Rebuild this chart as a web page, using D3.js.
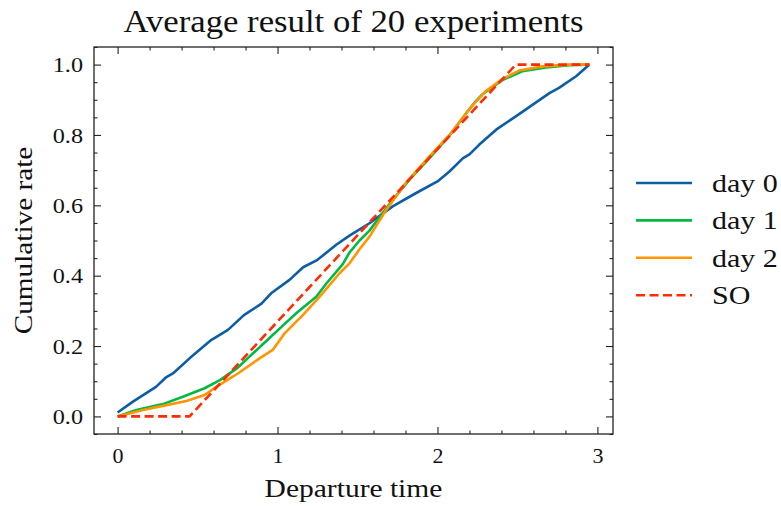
<!DOCTYPE html>
<html>
<head>
<meta charset="utf-8">
<script src="https://cdn.jsdelivr.net/npm/d3@7"></script>
<style>
  html, body { margin: 0; padding: 0; background: #fff; }
  svg text { font-family: "Liberation Serif", "DejaVu Serif", serif; fill: #111; }
</style>
</head>
<body>
<svg id="chart" width="781" height="506"></svg>
<script>
// Cumulative departure rate, averaged over 20 experiments
const day0 = [[0,0.011],[0.096,0.042],[0.24,0.084],[0.30,0.11],[0.346,0.122],[0.45,0.165],[0.585,0.217],[0.69,0.246],[0.79,0.288],[0.898,0.32],[0.96,0.35],[1.075,0.388],[1.16,0.424],[1.25,0.445],[1.367,0.488],[1.45,0.514],[1.575,0.549],[1.72,0.597],[1.867,0.635],[2.0,0.668],[2.075,0.696],[2.16,0.734],[2.2,0.745],[2.26,0.772],[2.367,0.815],[2.49,0.853],[2.7,0.919],[2.76,0.934],[2.867,0.967],[2.95,1.0]];
const day1 = [[0,0],[0.117,0.018],[0.283,0.035],[0.408,0.056],[0.544,0.08],[0.64,0.103],[0.75,0.138],[0.82,0.168],[0.908,0.205],[1.033,0.258],[1.117,0.293],[1.242,0.34],[1.304,0.377],[1.408,0.433],[1.45,0.466],[1.5125,0.5],[1.575,0.528],[1.7,0.604],[1.825,0.673],[1.95,0.734],[2.075,0.798],[2.18,0.862],[2.24,0.896],[2.28,0.915],[2.41,0.957],[2.53,0.981],[2.68,0.992],[2.825,0.998],[2.95,1.0]];
const day2 = [[0,0],[0.158,0.018],[0.283,0.03],[0.43,0.044],[0.544,0.061],[0.617,0.084],[0.752,0.122],[0.8875,0.165],[0.97,0.189],[1.044,0.236],[1.158,0.288],[1.2625,0.34],[1.3875,0.407],[1.45,0.435],[1.5125,0.475],[1.575,0.511],[1.68,0.587],[1.8,0.663],[1.95,0.739],[2.075,0.80],[2.2,0.874],[2.3,0.924],[2.41,0.96],[2.51,0.983],[2.66,0.995],[2.825,1.0],[2.95,1.0]];
const so = [[0,0],[0.45,0],[2.49,1.0],[2.95,1.0]];

const seriesNames = ["day 0", "day 1", "day 2", "SO"];
const seriesData = [day0, day1, day2, so];
const seriesColors = ["#0C5DA5", "#00B945", "#FF9500", "#FF2C00"];
const seriesDashed = [false, false, false, true];

const xTicks = [0, 1, 2, 3];
const yTicks = [0.0, 0.2, 0.4, 0.6, 0.8, 1.0];

const chartTitle = "Average result of 20 experiments";
const xLabel = "Departure time";
const yLabel = "Cumulative rate";

const svg = d3.select("#chart");
const plot = { left: 94, right: 613, top: 47, bottom: 434 };

const x = d3.scaleLinear().domain([-0.1475, 3.0975]).range([plot.left, plot.right]);
const y = d3.scaleLinear().domain([-0.05, 1.05]).range([plot.bottom, plot.top]);

const axisColor = "#222";

// widen a text run so its serif face has the proportions of a wider book face
function widen(sel, factor) {
  sel.each(function () {
    const w = this.getComputedTextLength();
    d3.select(this).attr("textLength", w * factor).attr("lengthAdjust", "spacingAndGlyphs");
  });
  return sel;
}

// clip for the data lines
svg.append("defs").append("clipPath").attr("id", "clip")
  .append("rect").attr("x", plot.left).attr("y", plot.top)
  .attr("width", plot.right - plot.left).attr("height", plot.bottom - plot.top);

const line = d3.line().x(d => x(d[0])).y(d => y(d[1]));

const lines = svg.append("g").attr("clip-path", "url(#clip)");
seriesData.forEach((data, i) => {
  lines.append("path")
    .datum(data)
    .attr("d", line)
    .attr("fill", "none")
    .attr("stroke", seriesColors[i])
    .attr("stroke-width", 2.6)
    .attr("stroke-linejoin", "round")
    .attr("stroke-dasharray", seriesDashed[i] ? "9,4.5" : null);
});

// ticks pointing inward on all four sides
const xMinor = d3.range(0, 3.01, 0.2).filter(v => !xTicks.some(t => Math.abs(t - v) < 1e-6));
const yMinor = d3.range(-0.05, 1.051, 0.05).filter(v => !yTicks.some(t => Math.abs(t - v) < 1e-6));
const majorLen = 7, minorLen = 3.5;

function drawTicks(axisGen, translate, size) {
  const g = svg.append("g").attr("transform", translate).call(axisGen.tickSize(size).tickSizeOuter(0));
  g.select(".domain").remove();
  g.selectAll("line").attr("stroke", axisColor).attr("stroke-width", 1.1);
  return g;
}

// bottom
const xb = drawTicks(d3.axisBottom(x).tickValues(xTicks).tickFormat(d3.format("d")), `translate(0,${plot.bottom})`, -majorLen);
xb.selectAll("text").attr("y", 13).attr("dy", "0.71em").style("font-size", "22px");
drawTicks(d3.axisBottom(x).tickValues(xMinor).tickFormat(""), `translate(0,${plot.bottom})`, -minorLen);
// top
drawTicks(d3.axisTop(x).tickValues(xTicks).tickFormat(""), `translate(0,${plot.top})`, -majorLen);
drawTicks(d3.axisTop(x).tickValues(xMinor).tickFormat(""), `translate(0,${plot.top})`, -minorLen);
// left
const yl = drawTicks(d3.axisLeft(y).tickValues(yTicks).tickFormat(d3.format(".1f")), `translate(${plot.left},0)`, -majorLen);
yl.selectAll("text").attr("x", -11).style("font-size", "22px");
drawTicks(d3.axisLeft(y).tickValues(yMinor).tickFormat(""), `translate(${plot.left},0)`, -minorLen);
// right
drawTicks(d3.axisRight(y).tickValues(yTicks).tickFormat(""), `translate(${plot.right},0)`, -majorLen);
drawTicks(d3.axisRight(y).tickValues(yMinor).tickFormat(""), `translate(${plot.right},0)`, -minorLen);

svg.selectAll(".tick text").attr("fill", "#111").style("font-family", '"Liberation Serif", serif');
yl.selectAll("text").call(widen, 1.1);

// frame
svg.append("rect")
  .attr("x", plot.left).attr("y", plot.top)
  .attr("width", plot.right - plot.left).attr("height", plot.bottom - plot.top)
  .attr("fill", "none").attr("stroke", axisColor).attr("stroke-width", 1.3);

// title and axis labels
const cx = (plot.left + plot.right) / 2;
svg.append("text").attr("x", cx).attr("y", 32).attr("text-anchor", "middle")
  .style("font-size", "31px").text(chartTitle).call(widen, 1.12);
svg.append("text").attr("x", cx).attr("y", 497).attr("text-anchor", "middle")
  .style("font-size", "25px").text(xLabel).call(widen, 1.18);
svg.append("text").attr("transform", `translate(32,${(plot.top + plot.bottom) / 2}) rotate(-90)`)
  .attr("text-anchor", "middle").style("font-size", "25px").text(yLabel).call(widen, 1.17);

// legend outside the axes on the right
const legend = svg.append("g");
seriesNames.forEach((name, i) => {
  const ly = 183 + i * 37.4;
  legend.append("line")
    .attr("x1", 636).attr("x2", 692).attr("y1", ly).attr("y2", ly)
    .attr("stroke", seriesColors[i]).attr("stroke-width", 2.6)
    .attr("stroke-dasharray", seriesDashed[i] ? "9,4.5" : null);
  legend.append("text").attr("x", 712).attr("y", ly).attr("dy", "0.35em")
    .style("font-size", "25px").text(name).call(widen, 1.2);
});
</script>
</body>
</html>
